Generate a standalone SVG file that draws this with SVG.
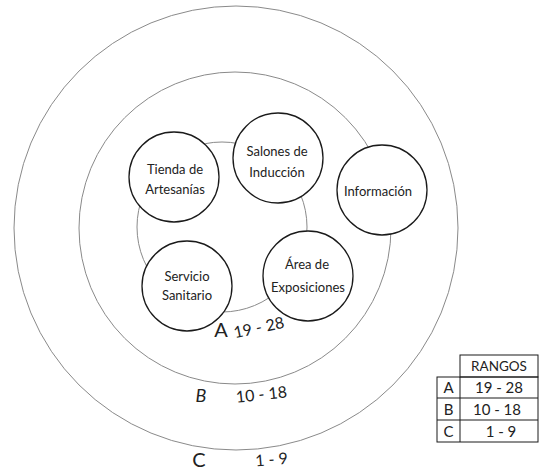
<svg xmlns="http://www.w3.org/2000/svg" width="545" height="473" viewBox="0 0 545 473">
<style>
.ring{fill:none;stroke:#8a8a8a;stroke-width:1}
.node{fill:#fff;stroke:#1a1a1a;stroke-width:1.3}
.t{font-family:Lato,"Open Sans","DejaVu Sans",sans-serif;font-weight:400;fill:#222;text-anchor:middle}
.n{font-size:13px}
.lab{font-size:16px}
.cell{fill:none;stroke:#1a1a1a;stroke-width:1}
</style>
<rect width="545" height="473" fill="#fff"/>
<g id="rings">
<circle class="ring" cx="236" cy="228" r="222"/>
<circle class="ring" cx="235" cy="228" r="156"/>
<circle class="ring" cx="222" cy="227" r="85"/>
</g>
<g id="connectors"></g>
<g id="tienda">
<circle class="node" cx="174" cy="177" r="45"/>
<text class="t n" x="175" y="174">Tienda de</text>
<text class="t n" x="175" y="194">Artesanías</text>
</g>
<g id="salones">
<circle class="node" cx="278" cy="158" r="45"/>
<text class="t n" x="277" y="156">Salones de</text>
<text class="t n" x="277" y="177">Inducción</text>
</g>
<g id="informacion">
<circle class="node" cx="382" cy="190" r="45"/>
<text class="t n" x="378" y="196">Información</text>
</g>
<g id="servicio">
<circle class="node" cx="187" cy="286" r="45"/>
<text class="t n" x="187" y="281">Servicio</text>
<text class="t n" x="187" y="300">Sanitario</text>
</g>
<g id="area">
<circle class="node" cx="308" cy="276" r="45"/>
<text class="t n" x="307" y="269">Área de</text>
<text class="t n" x="308" y="292">Exposiciones</text>
</g>
<g id="labels">
<text class="t" x="221" y="337" font-size="20">A</text>
<text class="t lab" x="260" y="333" transform="rotate(-12 260 333)">19 - 28</text>
<text class="t" x="201" y="402" font-size="18" font-style="italic">B</text>
<text class="t lab" x="262" y="400" transform="rotate(-6 262 400)">10 - 18</text>
<text class="t" x="199" y="467" font-size="20">C</text>
<text class="t lab" x="272" y="465" transform="rotate(-5 272 465)">1 - 9</text>
</g>
<g id="table">
<rect class="cell" x="460" y="355" width="78" height="22"/>
<rect class="cell" x="437" y="377" width="101" height="65"/>
<line class="cell" x1="460" y1="377" x2="460" y2="442"/>
<line class="cell" x1="437" y1="398" x2="538" y2="398"/>
<line class="cell" x1="437" y1="420" x2="538" y2="420"/>
<text class="t" x="499" y="371" font-size="13.5">RANGOS</text>
<text class="t" x="448.5" y="393" font-size="15">A</text>
<text class="t" x="499" y="393" font-size="15">19 - 28</text>
<text class="t" x="448.5" y="415" font-size="15">B</text>
<text class="t" x="497" y="415" font-size="15">10 - 18</text>
<text class="t" x="448.5" y="437" font-size="15">C</text>
<text class="t" x="501" y="437" font-size="15">1 - 9</text>
</g>
</svg>
